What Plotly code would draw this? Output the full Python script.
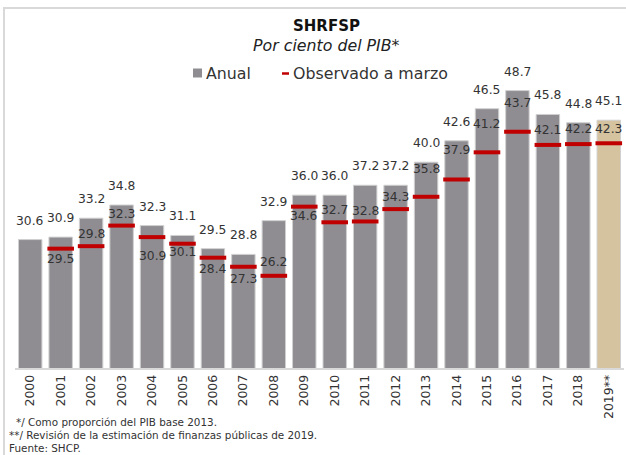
import plotly.graph_objects as go

# ---- data ----
years = ["2000", "2001", "2002", "2003", "2004", "2005", "2006", "2007", "2008", "2009",
         "2010", "2011", "2012", "2013", "2014", "2015", "2016", "2017", "2018", "2019**"]
anual = [30.6, 30.9, 33.2, 34.8, 32.3, 31.1, 29.5, 28.8, 32.9, 36.0,
         36.0, 37.2, 37.2, 40.0, 42.6, 46.5, 48.7, 45.8, 44.8, 45.1]
marzo = [None, 29.5, 29.8, 32.3, 30.9, 30.1, 28.4, 27.3, 26.2, 34.6,
         32.7, 32.8, 34.3, 35.8, 37.9, 41.2, 43.7, 42.1, 42.2, 42.3]

# ---- style (label offsets in px, positive = up) ----
marzo_label_shift = [0, -10, 12, 12, -19, -8, -11, -12, 14, -9,
                     12, 10, 12, 28, 29, 28, 29, 15, 15, 14]
anual_label_shift = 19

FONT = "DejaVu Sans"
GRAY = "#8f8d92"
TAN = "#d5c29f"
RED = "#c00000"
TXT = "#333333"

W, H = 626, 455
ML, MR, MT, MB = 15, 2, 60, 87
PW = W - ML - MR
PH = H - MT - MB
YMIN = 15
YMAX = YMIN + PH / 8.232


def px_x(x):
    return (x - ML) / PW


def px_y(y):
    return (H - MB - y) / PH


bar_colors = [GRAY] * (len(years) - 1) + [TAN]

fig = go.Figure()
fig.add_trace(go.Bar(
    x=years, y=anual, name="Anual",
    marker=dict(color=bar_colors, line=dict(color="#d0d0d0", width=1)),
    showlegend=False, hoverinfo="x+y",
))
fig.add_trace(go.Scatter(
    x=years, y=marzo, mode="markers", name="Observado a marzo",
    marker=dict(symbol="line-ew", size=19, line=dict(color=RED, width=4)),
    showlegend=False,
))

annotations = []
for i, v in enumerate(anual):
    annotations.append(dict(x=i, y=v, xref="x", yref="y", text=f"{v:.1f}",
                            showarrow=False, yanchor="middle", yshift=anual_label_shift,
                            font=dict(family=FONT, size=12.3, color=TXT)))
for i, (v, s) in enumerate(zip(marzo, marzo_label_shift)):
    if v is None:
        continue
    annotations.append(dict(x=i, y=v, xref="x", yref="y", text=f"{v:.1f}",
                            showarrow=False, yanchor="middle", yshift=s,
                            font=dict(family=FONT, size=12.3, color=TXT)))

# title / subtitle
annotations.append(dict(x=px_x(326), y=px_y(26), xref="paper", yref="paper", text="<b>SHRFSP</b>",
                        showarrow=False, yanchor="middle",
                        font=dict(family=FONT, size=15, color="#111111")))
annotations.append(dict(x=px_x(326), y=px_y(45), xref="paper", yref="paper", text="<i>Por ciento del PIB*</i>",
                        showarrow=False, yanchor="middle",
                        font=dict(family=FONT, size=15.8, color="#222222")))
# legend texts
annotations.append(dict(x=px_x(204), y=px_y(73), xref="paper", yref="paper", text="Anual",
                        showarrow=False, xanchor="left", yanchor="middle",
                        font=dict(family=FONT, size=15.8, color=TXT)))
annotations.append(dict(x=px_x(291), y=px_y(73), xref="paper", yref="paper", text="Observado a marzo",
                        showarrow=False, xanchor="left", yanchor="middle",
                        font=dict(family=FONT, size=15.8, color=TXT)))
# footnotes
foot = [("*/ Como proporción del PIB base 2013.", 14, 422),
        ("**/ Revisión de la estimación de finanzas públicas de 2019.", 7, 435),
        ("Fuente: SHCP.", 7, 447.5)]
for t, x0, y0 in foot:
    annotations.append(dict(x=px_x(x0), y=px_y(y0), xref="paper", yref="paper", text=t,
                            showarrow=False, xanchor="left", yanchor="middle",
                            font=dict(family=FONT, size=10.4, color=TXT)))

shapes = [
    # frame
    dict(type="rect", xref="paper", yref="paper", x0=px_x(4), x1=px_x(640), y0=px_y(470), y1=px_y(8),
         line=dict(color="#d9d9d9", width=2), fillcolor="rgba(0,0,0,0)", layer="below"),
    # legend symbols
    dict(type="rect", xref="paper", yref="paper", x0=px_x(193), x1=px_x(202), y0=px_y(77.5), y1=px_y(68.5),
         line=dict(width=0), fillcolor=GRAY),
    dict(type="line", xref="paper", yref="paper", x0=px_x(282), x1=px_x(289), y0=px_y(73.5), y1=px_y(73.5),
         line=dict(color=RED, width=2.5)),
]

fig.update_layout(
    width=W, height=H,
    margin=dict(l=ML, r=MR, t=MT, b=MB, pad=0),
    paper_bgcolor="white", plot_bgcolor="white",
    bargap=0.23,
    showlegend=False,
    annotations=annotations,
    shapes=shapes,
    xaxis=dict(type="category", range=[-0.5, len(years) - 0.5], tickangle=-90,
               showline=True, linecolor="#d9d9d9", linewidth=1.5, ticks="",
               showgrid=False, zeroline=False,
               tickfont=dict(family=FONT, size=12.5, color=TXT)),
    yaxis=dict(range=[YMIN, YMAX], visible=False, showgrid=False, zeroline=False),
    font=dict(family=FONT, color=TXT),
)

fig.write_html(
    "out.html",
    config={"displayModeBar": False},
    post_script="document.body.style.margin='0';document.body.style.overflow='hidden';",
)
